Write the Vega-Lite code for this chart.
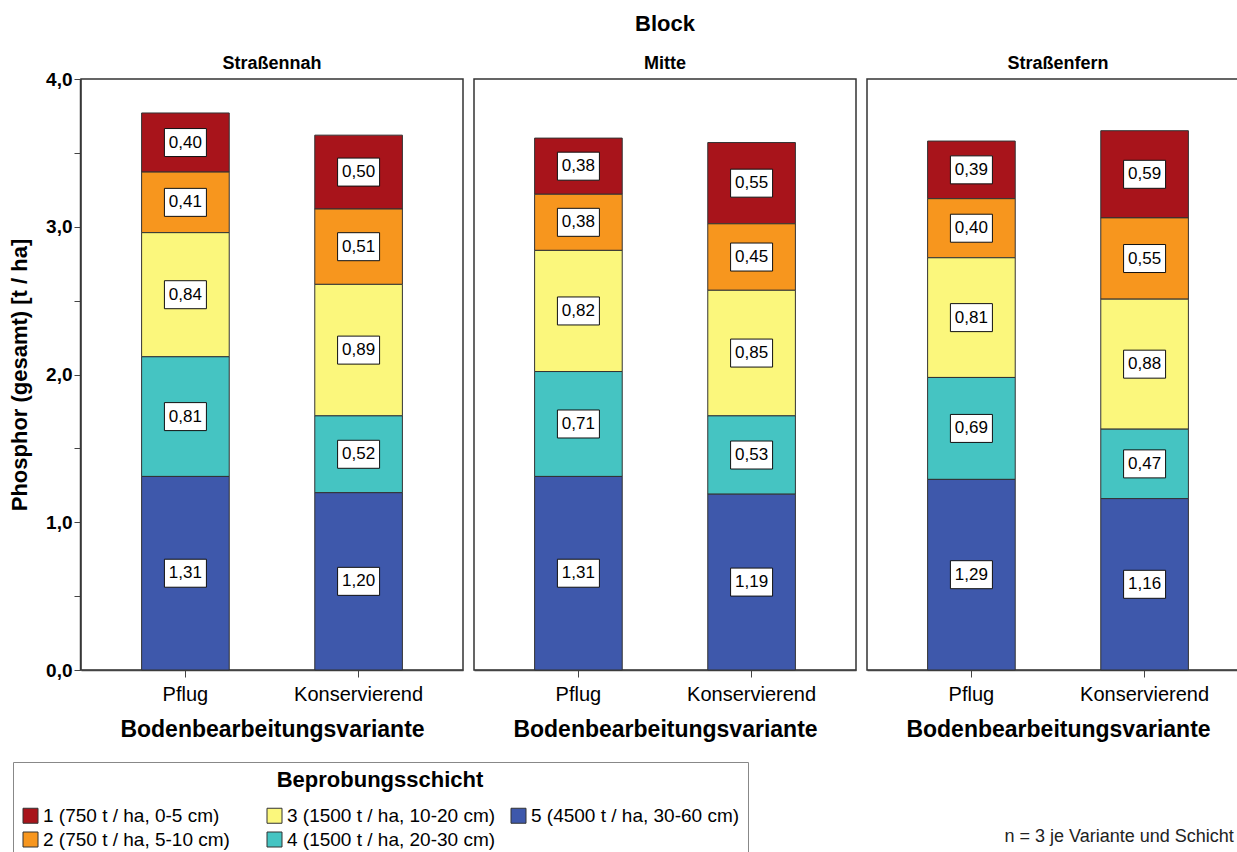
{
  "$schema": "https://vega.github.io/schema/vega-lite/v6.json",
  "padding": {"left": 8, "top": 13, "right": 0, "bottom": 0},
  "data": {
    "values": [
      {"block": "Straßennah", "variante": "Pflug", "schicht": "1 (750 t / ha, 0-5 cm)", "wert": 0.40},
      {"block": "Straßennah", "variante": "Pflug", "schicht": "2 (750 t / ha, 5-10 cm)", "wert": 0.41},
      {"block": "Straßennah", "variante": "Pflug", "schicht": "3 (1500 t / ha, 10-20 cm)", "wert": 0.84},
      {"block": "Straßennah", "variante": "Pflug", "schicht": "4 (1500 t / ha, 20-30 cm)", "wert": 0.81},
      {"block": "Straßennah", "variante": "Pflug", "schicht": "5 (4500 t / ha, 30-60 cm)", "wert": 1.31},
      {"block": "Straßennah", "variante": "Konservierend", "schicht": "1 (750 t / ha, 0-5 cm)", "wert": 0.50},
      {"block": "Straßennah", "variante": "Konservierend", "schicht": "2 (750 t / ha, 5-10 cm)", "wert": 0.51},
      {"block": "Straßennah", "variante": "Konservierend", "schicht": "3 (1500 t / ha, 10-20 cm)", "wert": 0.89},
      {"block": "Straßennah", "variante": "Konservierend", "schicht": "4 (1500 t / ha, 20-30 cm)", "wert": 0.52},
      {"block": "Straßennah", "variante": "Konservierend", "schicht": "5 (4500 t / ha, 30-60 cm)", "wert": 1.20},
      {"block": "Mitte", "variante": "Pflug", "schicht": "1 (750 t / ha, 0-5 cm)", "wert": 0.38},
      {"block": "Mitte", "variante": "Pflug", "schicht": "2 (750 t / ha, 5-10 cm)", "wert": 0.38},
      {"block": "Mitte", "variante": "Pflug", "schicht": "3 (1500 t / ha, 10-20 cm)", "wert": 0.82},
      {"block": "Mitte", "variante": "Pflug", "schicht": "4 (1500 t / ha, 20-30 cm)", "wert": 0.71},
      {"block": "Mitte", "variante": "Pflug", "schicht": "5 (4500 t / ha, 30-60 cm)", "wert": 1.31},
      {"block": "Mitte", "variante": "Konservierend", "schicht": "1 (750 t / ha, 0-5 cm)", "wert": 0.55},
      {"block": "Mitte", "variante": "Konservierend", "schicht": "2 (750 t / ha, 5-10 cm)", "wert": 0.45},
      {"block": "Mitte", "variante": "Konservierend", "schicht": "3 (1500 t / ha, 10-20 cm)", "wert": 0.85},
      {"block": "Mitte", "variante": "Konservierend", "schicht": "4 (1500 t / ha, 20-30 cm)", "wert": 0.53},
      {"block": "Mitte", "variante": "Konservierend", "schicht": "5 (4500 t / ha, 30-60 cm)", "wert": 1.19},
      {"block": "Straßenfern", "variante": "Pflug", "schicht": "1 (750 t / ha, 0-5 cm)", "wert": 0.39},
      {"block": "Straßenfern", "variante": "Pflug", "schicht": "2 (750 t / ha, 5-10 cm)", "wert": 0.40},
      {"block": "Straßenfern", "variante": "Pflug", "schicht": "3 (1500 t / ha, 10-20 cm)", "wert": 0.81},
      {"block": "Straßenfern", "variante": "Pflug", "schicht": "4 (1500 t / ha, 20-30 cm)", "wert": 0.69},
      {"block": "Straßenfern", "variante": "Pflug", "schicht": "5 (4500 t / ha, 30-60 cm)", "wert": 1.29},
      {"block": "Straßenfern", "variante": "Konservierend", "schicht": "1 (750 t / ha, 0-5 cm)", "wert": 0.59},
      {"block": "Straßenfern", "variante": "Konservierend", "schicht": "2 (750 t / ha, 5-10 cm)", "wert": 0.55},
      {"block": "Straßenfern", "variante": "Konservierend", "schicht": "3 (1500 t / ha, 10-20 cm)", "wert": 0.88},
      {"block": "Straßenfern", "variante": "Konservierend", "schicht": "4 (1500 t / ha, 20-30 cm)", "wert": 0.47},
      {"block": "Straßenfern", "variante": "Konservierend", "schicht": "5 (4500 t / ha, 30-60 cm)", "wert": 1.16}
    ]
  },
  "facet": {
    "column": {
      "field": "block",
      "type": "nominal",
      "sort": ["Straßennah", "Mitte", "Straßenfern"],
      "header": {
        "title": "Block",
        "titleFontSize": 22,
        "titleFontWeight": "bold",
        "titleColor": "#000",
        "titlePadding": 9,
        "labelFontSize": 18,
        "labelFontWeight": "bold",
        "labelColor": "#000",
        "labelPadding": 5
      }
    }
  },
  "spacing": 9,
  "resolve": {"axis": {"x": "independent"}},
  "spec": {
    "width": 382,
    "height": 591,
    "encoding": {
      "x": {
        "field": "variante",
        "type": "nominal",
        "sort": ["Pflug", "Konservierend"],
        "scale": {"paddingInner": 0.494, "paddingOuter": 0.35},
        "axis": {
          "title": "Bodenbearbeitungsvariante",
          "titleFontSize": 23,
          "titleFontWeight": "bold",
          "titleColor": "#000",
          "titlePadding": 14,
          "labelAngle": 0,
          "labelFontSize": 20,
          "labelColor": "#000",
          "labelPadding": 7,
          "tickSize": 7,
          "tickColor": "#444",
          "domainColor": "#444",
          "domainWidth": 1.5
        }
      }
    },
    "layer": [
      {
        "mark": {"type": "bar", "stroke": "#333", "strokeWidth": 1},
        "encoding": {
          "y": {
            "field": "wert",
            "type": "quantitative",
            "stack": "zero",
            "scale": {"domain": [0, 4], "nice": false},
            "axis": {
              "title": "Phosphor (gesamt) [t / ha]",
              "titleFontSize": 22,
              "titleFontWeight": "bold",
              "titleColor": "#000",
              "titlePadding": 14,
              "values": [0, 0.5, 1, 1.5, 2, 2.5, 3, 3.5, 4],
              "format": ".1f",
              "labelExpr": "datum.value % 1 === 0 ? datum.label : ''",
              "labelFontSize": 19,
              "labelFontWeight": "bold",
              "labelColor": "#000",
              "labelPadding": 2,
              "tickSize": 6,
              "tickColor": "#444",
              "domainColor": "#444",
              "domainWidth": 1.5,
              "grid": false
            }
          },
          "color": {
            "field": "schicht",
            "type": "nominal",
            "scale": {
              "domain": ["1 (750 t / ha, 0-5 cm)", "3 (1500 t / ha, 10-20 cm)", "5 (4500 t / ha, 30-60 cm)", "2 (750 t / ha, 5-10 cm)", "4 (1500 t / ha, 20-30 cm)"],
              "range": ["#A8141B", "#FBF77C", "#3E58AB", "#F7961E", "#45C4C2"]
            },
            "legend": {
              "title": "Beprobungsschicht",
              "orient": "none",
              "legendX": -68,
              "legendY": 683,
              "direction": "horizontal",
              "columns": 3,
              "gridAlign": "all",
              "columnPadding": 13,
              "rowPadding": 4,
              "titleFontSize": 22,
              "titleFontWeight": "bold",
              "titleColor": "#000",
              "titleAnchor": "middle",
              "titleLimit": 600,
              "titlePadding": 14,
              "labelFontSize": 19,
              "labelColor": "#000",
              "labelLimit": 400,
              "labelOffset": 3,
              "symbolType": "square",
              "symbolSize": 225,
              "symbolStrokeColor": "#333",
              "symbolStrokeWidth": 1,
              "strokeColor": "#888",
              "padding": 8
            }
          },
          "order": {"field": "schicht", "sort": "descending"}
        }
      },
      {
        "mark": {"type": "point", "shape": "M-1.5,-1H1.5V1H-1.5Z", "size": 784, "filled": true, "fill": "white", "stroke": "#111", "strokeWidth": 1, "opacity": 1},
        "encoding": {
          "y": {"field": "wert", "type": "quantitative", "stack": "zero", "bandPosition": 0.5},
          "detail": {"field": "schicht"},
          "order": {"field": "schicht", "sort": "descending"}
        }
      },
      {
        "mark": {"type": "text", "fontSize": 17, "color": "#000", "baseline": "middle", "align": "center"},
        "encoding": {
          "y": {"field": "wert", "type": "quantitative", "stack": "zero", "bandPosition": 0.5},
          "detail": {"field": "schicht"},
          "order": {"field": "schicht", "sort": "descending"},
          "text": {"field": "wert", "type": "quantitative", "format": ".2f"}
        }
      }
    ]
  },
  "title": {
    "text": "n = 3 je Variante und Schicht",
    "orient": "bottom",
    "anchor": "end",
    "fontSize": 18,
    "fontWeight": "normal",
    "color": "#222",
    "offset": 0,
    "dx": -16,
    "dy": -31
  },
  "config": {
    "font": "Liberation Sans",
    "locale": {"number": {"decimal": ",", "thousands": ".", "grouping": [3], "currency": ["", " €"]}},
    "view": {"stroke": "#333", "strokeWidth": 1.5}
  }
}
